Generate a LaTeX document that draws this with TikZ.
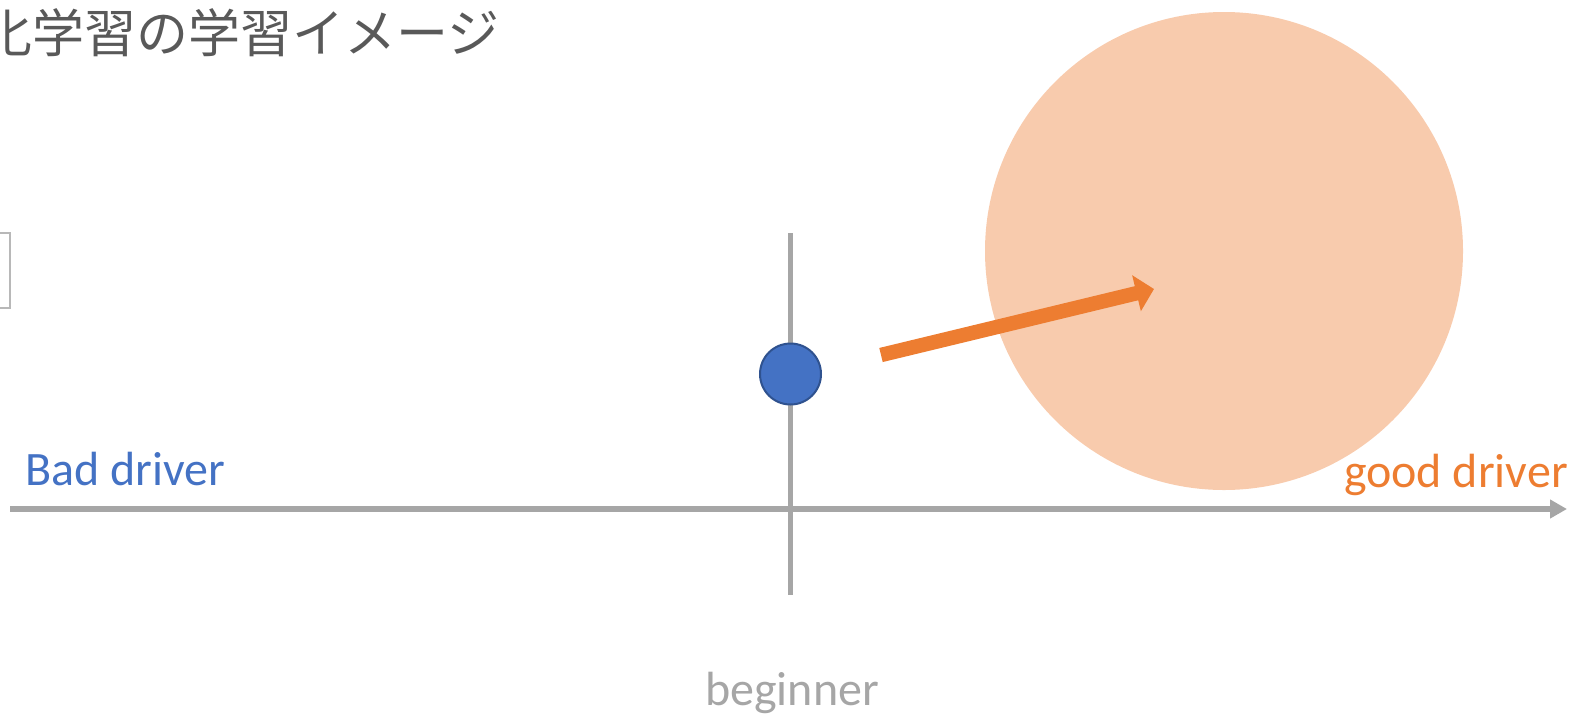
\documentclass[tikz,border=0pt]{standalone}
\usepackage{fontspec}
\setmainfont{Carlito}
\newfontfamily\jpfont{Noto Sans CJK JP}
\usetikzlibrary{arrows.meta}
\definecolor{axisgray}{HTML}{A6A6A6}
\definecolor{titlegray}{HTML}{595959}
\definecolor{dotblue}{HTML}{4472C4}
\definecolor{dotborder}{HTML}{2F528F}
\definecolor{arroworange}{HTML}{ED7D31}
\definecolor{goalorange}{HTML}{F8CBAD}
\tikzset{
  axisline/.style={draw=axisgray, line width=5.5pt},
  lbl/.style={inner sep=0pt, font=\fontsize{48}{52}\selectfont},
}
\begin{document}
\begin{tikzpicture}[x=1pt,y=-1pt]
\useasboundingbox (0,0) rectangle (1577,721);
\clip (0,0) rectangle (1577,721);
% title
\node[inner sep=0pt, anchor=west, text=titlegray, font=\jpfont\fontsize{52}{56}\selectfont] (title) at (-20,33) {化学習の学習イメージ};
% partial box at left edge
\node[draw=axisgray!80, line width=1.5pt, minimum width=60pt, minimum height=75pt, inner sep=0pt] (box) at (-20,270.5) {};
% goal circle
\node[circle, fill=goalorange, minimum size=478pt, inner sep=0pt] (goal) at (1224,251) {};
% axes
\coordinate (xl) at (10,509);
\coordinate (xr) at (1567,509);
\coordinate (vt) at (790.5,233);
\coordinate (vb) at (790.5,595);
\draw[axisline] (vt) -- (vb);
\draw[axisline, -{Triangle[length=17pt,width=18pt]}] (xl) -- (xr);
% dot
\node[circle, fill=dotblue, draw=dotborder, line width=2pt, minimum size=61pt, inner sep=0pt] (dot) at (790.5,374) {};
% arrow
\coordinate (as) at (881,355);
\coordinate (ae) at (1154,289);
\draw[draw=arroworange, line width=14.5pt, -{Triangle[length=18pt,width=36pt]}] (as) -- (ae);
% labels
\node[lbl, anchor=base west, text=dotblue] (bad) at (25,485) {Bad driver};
\node[lbl, anchor=base east, text=arroworange] (good) at (1568,487) {good driver};
\node[lbl, anchor=base, text=axisgray] (beg) at (792,705) {beginner};
\end{tikzpicture}
\end{document}
